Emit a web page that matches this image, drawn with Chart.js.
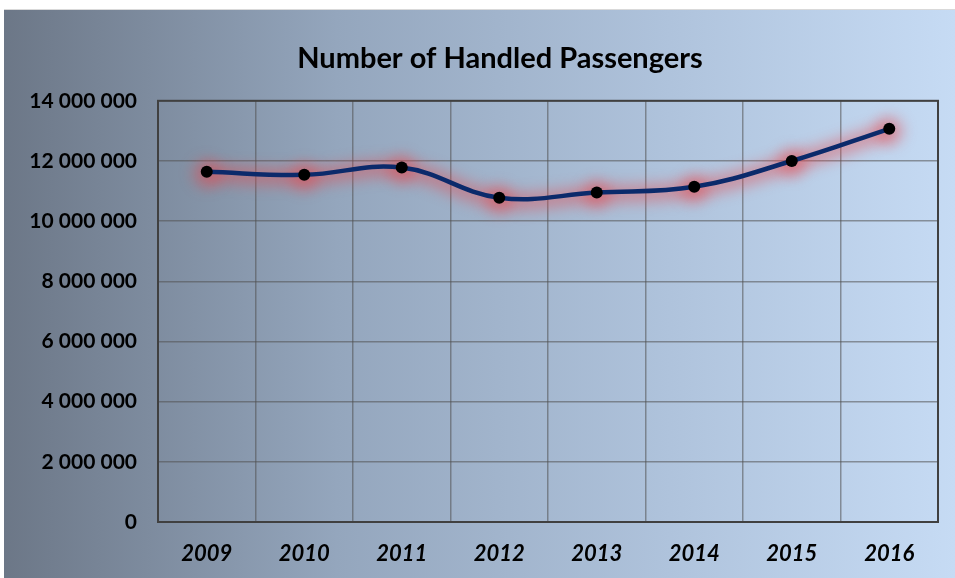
<!DOCTYPE html>
<html>
<head>
<meta charset="utf-8">
<script src="https://cdn.jsdelivr.net/npm/chart.js@4.4.1/dist/chart.umd.min.js"></script>
<style>
  html, body { margin: 0; padding: 0; background: #fff; }
  #wrap {
    position: absolute; left: 4px; top: 9px; width: 951px; height: 569px;
    background: linear-gradient(to right, #6c7787 0%, #94a6bd 35%, #afc3dc 70%, #c6dbf4 100%);
    border-top: 1px solid #d9d9d9;
    box-sizing: border-box;
  }
</style>
</head>
<body>
<div id="wrap"><canvas id="chart" width="951" height="568"></canvas></div>
<script>
  // values
  const years = ["2009", "2010", "2011", "2012", "2013", "2014", "2015", "2016"];
  const passengers = [11640000, 11540000, 11780000, 10780000, 10950000, 11140000, 12000000, 13070000];
  const yTicks = [0, 2000000, 4000000, 6000000, 8000000, 10000000, 12000000, 14000000];

  function spaced(v) {
    return String(v).replace(/\B(?=(\d{3})+(?!\d))/g, " ");
  }

  // blur the halo dataset (index 1) so it looks like a soft red glow
  const glow = {
    id: "glow",
    beforeDatasetDraw(chart, args) {
      if (args.index !== 1) return;
      chart.ctx.save();
      chart.ctx.filter = "blur(7px)";
      chart.ctx.translate(0, 2);
    },
    afterDatasetDraw(chart, args) {
      if (args.index !== 1) return;
      chart.ctx.restore();
    }
  };

  // title sits a bit left of the canvas centre in the original
  const titleShift = {
    id: "titleShift",
    afterLayout(chart) {
      const t = chart.titleBlock;
      if (!t) return;
      t.left = 0;
      t.right = 992;
    }
  };

  // dark frame round the plot area
  const frame = {
    id: "frame",
    beforeDatasetsDraw(chart) {
      const a = chart.chartArea, ctx = chart.ctx;
      ctx.save();
      ctx.strokeStyle = "#404040";
      ctx.lineWidth = 2;
      ctx.strokeRect(a.left, a.top, a.right - a.left, a.bottom - a.top);
      ctx.restore();
    }
  };

  const halo = "rgba(228, 70, 75, 0.42)";

  new Chart(document.getElementById("chart").getContext("2d"), {
    type: "line",
    data: {
      labels: years,
      datasets: [{
        data: passengers,
        order: 1,
        borderColor: "#0b2a6b",
        borderWidth: 4.5,
        tension: 0.4,
        pointRadius: 6,
        pointBackgroundColor: "#000",
        pointBorderColor: "#000",
        pointBorderWidth: 0,
        fill: false
      }, {
        data: passengers,
        order: 2,
        borderColor: halo,
        borderWidth: 18,
        tension: 0.4,
        pointRadius: 14,
        pointBackgroundColor: halo,
        pointBorderWidth: 0,
        fill: false
      }]
    },
    options: {
      responsive: false,
      animation: false,
      layout: { padding: { left: 0, right: 17, top: 0, bottom: 0 } },
      plugins: {
        legend: { display: false },
        tooltip: { enabled: false },
        title: {
          display: true,
          text: "Number of Handled Passengers",
          color: "#000",
          font: { family: "Lato", size: 29, weight: "bold", lineHeight: 1.2 },
          padding: { top: 31, bottom: 25 }
        }
      },
      scales: {
        x: {
          offset: true,
          grid: { offset: true, color: "rgba(80,80,80,0.55)", lineWidth: 1.5, drawTicks: false },
          border: { display: false },
          ticks: {
            color: "#000",
            padding: 19,
            font: { family: "Lato", size: 22, weight: "bold", style: "italic" }
          },
          afterFit(s) { s.height = 56; }
        },
        y: {
          min: 0,
          max: 14000000,
          afterBuildTicks(s) { s.ticks = yTicks.map(v => ({ value: v })); },
          grid: { color: "rgba(80,80,80,0.55)", lineWidth: 1.5, drawTicks: false },
          border: { display: false },
          ticks: {
            color: "#000",
            padding: 21,
            font: { family: "Lato", size: 21, weight: "bold" },
            callback: v => spaced(v)
          },
          afterFit(s) { s.width = 154; }
        }
      }
    },
    plugins: [frame, glow, titleShift]
  });
</script>
</body>
</html>
